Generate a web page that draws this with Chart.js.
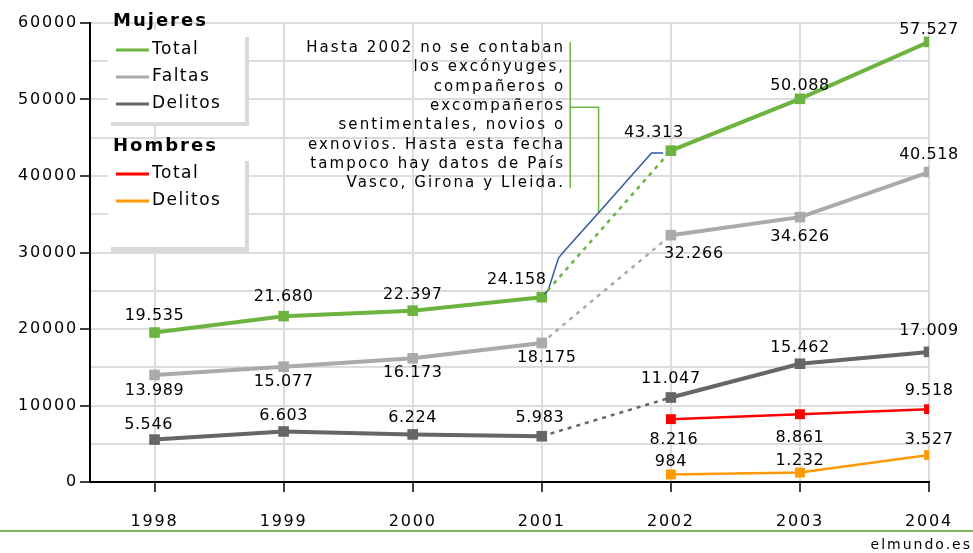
<!DOCTYPE html>
<html>
<head>
<meta charset="utf-8">
<script src="https://cdn.jsdelivr.net/npm/chart.js@4.4.1/dist/chart.umd.min.js"></script>
<style>
  html, body { margin: 0; padding: 0; background: #fff; }
  #c { display: block; }
</style>
</head>
<body>
<canvas id="c" width="973" height="553"></canvas>
<script>
// ---- data ----
const years = [1998, 1999, 2000, 2001, 2002, 2003, 2004];
const mujeresTotal = [19535, 21680, 22397, 24158, 43313, 50088, 57527];
const mujeresFaltas = [13989, 15077, 16173, 18175, 32266, 34626, 40518];
const mujeresDelitos = [5546, 6603, 6224, 5983, 11047, 15462, 17009];
const hombresTotal = [null, null, null, null, 8216, 8861, 9518];
const hombresDelitos = [null, null, null, null, 984, 1232, 3527];

// hand-drawn blue note line (data space: year, value)
const notePathYears = [2001, 2001.05, 2001.13, 2001.18, 2001.44, 2001.85, 2001.94];
const notePathValues = [24158, 25100, 29300, 30300, 35200, 43000, 43000];

const noteLines = [
  "Hasta 2002 no se contaban",
  "los excónyuges,",
  "compañeros o",
  "excompañeros",
  "sentimentales, novios o",
  "exnovios. Hasta esta fecha",
  "tampoco hay datos de País",
  "Vasco, Girona y Lleida."
];

// ---- label placement (pixel offsets from the point) ----
const offMTotal = [[0, -17], [0, -19], [0, -16], [-25, -17], [-17, -18], [0, -13], [0, -12]];
const offMFaltas = [[0, 16], [0, 15], [0, 15], [5, 15], [23, 19], [0, 20], [0, -17]];
const offMDelitos = [[-6, -15], [0, -16], [0, -17], [-2, -18], [0, -19], [0, -16], [0, -21]];
const offHTotal = [null, null, null, null, [3, 21], [0, 24], [0, -18]];
const offHDelitos = [null, null, null, null, [0, -13], [0, -12], [0, -15]];

// ---- colours ----
const GREEN = "#6db33f";
const LIGHT = "#aaaaaa";
const DARK = "#666666";
const RED = "#ff0000";
const ORANGE = "#ff9900";
const GRID = "#dcdcdc";
const FONT = "'DejaVu Sans', Verdana, sans-serif";

function seg(vals, from, to) {
  const out = [];
  for (let i = from; i <= to; i++) out.push({ x: years[i], y: vals[i] });
  return out;
}
function fmt(v) {
  return String(v).replace(/\B(?=(\d{3})+(?!\d))/g, ".");
}

function solid(vals, from, to, color, width, radius) {
  return {
    data: seg(vals, from, to),
    borderColor: color,
    backgroundColor: color,
    borderWidth: width,
    pointStyle: "rect",
    pointRadius: radius,
    pointBorderWidth: 0,
    pointBackgroundColor: color,
    tension: 0,
  };
}
function dashed(vals, color) {
  return {
    data: seg(vals, 3, 4),
    borderColor: color,
    borderWidth: 2.5,
    borderDash: [4, 5],
    pointRadius: 0,
    tension: 0,
  };
}

const datasets = [
  dashed(mujeresDelitos, DARK),
  dashed(mujeresFaltas, LIGHT),
  dashed(mujeresTotal, GREEN),
  {
    data: notePathYears.map((x, i) => ({ x, y: notePathValues[i] })),
    borderColor: "#2e5aa0",
    borderWidth: 1.5,
    pointRadius: 0,
    tension: 0,
  },
  solid(mujeresDelitos, 0, 3, DARK, 4, 7.5),
  solid(mujeresDelitos, 4, 6, DARK, 4, 7.5),
  solid(mujeresFaltas, 0, 3, LIGHT, 4, 7.5),
  solid(mujeresFaltas, 4, 6, LIGHT, 4, 7.5),
  solid(mujeresTotal, 0, 3, GREEN, 4, 7.5),
  solid(mujeresTotal, 4, 6, GREEN, 4, 7.5),
  solid(hombresTotal, 4, 6, RED, 2.5, 7),
  solid(hombresDelitos, 4, 6, ORANGE, 2.5, 7),
];

const labelSeries = [
  [mujeresTotal, offMTotal],
  [mujeresFaltas, offMFaltas],
  [mujeresDelitos, offMDelitos],
  [hombresTotal, offHTotal],
  [hombresDelitos, offHDelitos],
];

function text(ctx, str, x, y, font, spacing, align) {
  ctx.save();
  ctx.font = font;
  ctx.letterSpacing = spacing + "px";
  ctx.fillStyle = "#000";
  ctx.textAlign = align || "left";
  ctx.textBaseline = "middle";
  ctx.fillText(str, x, y);
  ctx.restore();
}

const TICK_SPACING = "1.8px";

const decorPlugin = {
  id: "decor",
  beforeUpdate(chart) { chart.ctx.letterSpacing = TICK_SPACING; },
  beforeDraw(chart) { chart.ctx.letterSpacing = TICK_SPACING; },
  beforeDatasetsDraw(chart) {
    const ctx = chart.ctx;
    ctx.save();
    // legend boxes
    ctx.fillStyle = "#fff";
    ctx.fillRect(108, 30, 139, 94);
    ctx.fillRect(108, 150, 139, 99);
    ctx.fillStyle = "#d9d9d9";
    ctx.fillRect(245, 37, 4, 89);
    ctx.fillRect(111, 122, 138, 4);
    ctx.fillRect(245, 161, 4, 91);
    ctx.fillRect(111, 247, 138, 5);
    ctx.restore();

    // note connector (green) anchored in data space
    const xs = chart.scales.x, ys = chart.scales.y;
    const cx = xs.getPixelForValue(2001.22);
    const ex = xs.getPixelForValue(2001.44);
    const top = ys.getPixelForValue(57500);
    const bottom = ys.getPixelForValue(38400);
    const elbow = ys.getPixelForValue(49000);
    const target = ys.getPixelForValue(35200);
    ctx.save();
    ctx.strokeStyle = GREEN;
    ctx.lineWidth = 1.5;
    ctx.beginPath();
    ctx.moveTo(cx, top);
    ctx.lineTo(cx, bottom);
    ctx.moveTo(cx, elbow);
    ctx.lineTo(ex, elbow);
    ctx.lineTo(ex, target);
    ctx.stroke();
    ctx.restore();

    noteLines.forEach((ln, i) => {
      text(ctx, ln, cx - 5, top + 6 + i * 19.3, "15px " + FONT, 2.1, "right");
    });

    // legend content
    text(ctx, "Mujeres", 113, 21, "bold 18px " + FONT, 2, "left");
    text(ctx, "Hombres", 113, 146, "bold 18px " + FONT, 2, "left");
    const items = [
      ["Total", GREEN, 50], ["Faltas", LIGHT, 77], ["Delitos", DARK, 104],
      ["Total", RED, 174], ["Delitos", ORANGE, 201],
    ];
    items.forEach(([lab, col, y]) => {
      ctx.save();
      ctx.strokeStyle = col;
      ctx.lineWidth = 3;
      ctx.beginPath();
      ctx.moveTo(116, y);
      ctx.lineTo(149, y);
      ctx.stroke();
      ctx.restore();
      text(ctx, lab, 152, y, "17px " + FONT, 1.5, "left");
    });
  },
  afterDatasetsDraw(chart) {
    const ctx = chart.ctx;
    const xs = chart.scales.x, ys = chart.scales.y;
    labelSeries.forEach(([vals, offs]) => {
      vals.forEach((v, i) => {
        if (v === null) return;
        const px = xs.getPixelForValue(years[i]) + offs[i][0];
        const py = ys.getPixelForValue(v) + offs[i][1];
        text(ctx, fmt(v), px, py, "16px " + FONT, 0.6, "center");
      });
    });
  },
  afterDraw(chart) {
    const ctx = chart.ctx;
    ctx.save();
    ctx.fillStyle = "#7cb85a";
    ctx.fillRect(0, 530, chart.width, 2);
    ctx.restore();
    text(ctx, "elmundo.es", 972, 545, "14px " + FONT, 2, "right");
  },
};

new Chart(document.getElementById("c"), {
  type: "line",
  data: { datasets },
  plugins: [decorPlugin],
  options: {
    responsive: false,
    animation: false,
    events: [],
    layout: { padding: { top: 23, right: 41, left: 0, bottom: 0 } },
    plugins: { legend: { display: false }, tooltip: { enabled: false } },
    scales: {
      x: {
        type: "linear",
        min: 1997.5,
        max: 2004,
        afterBuildTicks: (s) => { s.ticks = years.map((v) => ({ value: v })); },
        afterFit: (s) => { s.height = 71; },
        ticks: {
          color: "#000",
          font: { family: FONT, size: 16 },
          padding: 20,
          maxRotation: 0,
          autoSkip: false,
          callback: (v) => String(v),
        },
        grid: { color: GRID, lineWidth: 2, tickLength: 10, tickColor: "#000", tickWidth: 1.5 },
        border: { display: true, color: "#000", width: 2 },
      },
      y: {
        min: 0,
        max: 60000,
        afterFit: (s) => { s.width = 90; },
        ticks: {
          stepSize: 5000,
          color: "#000",
          font: { family: FONT, size: 16 },
          padding: 2,
          callback: (v) => (v % 10000 === 0 ? String(v) : ""),
        },
        grid: {
          color: GRID,
          lineWidth: 2,
          tickLength: 10,
          tickWidth: 1.5,
          tickColor: (c) => (c.tick && c.tick.value % 10000 === 0 ? "#000" : "rgba(0,0,0,0)"),
        },
        border: { display: true, color: "#000", width: 2 },
      },
    },
  },
});
</script>
</body>
</html>
